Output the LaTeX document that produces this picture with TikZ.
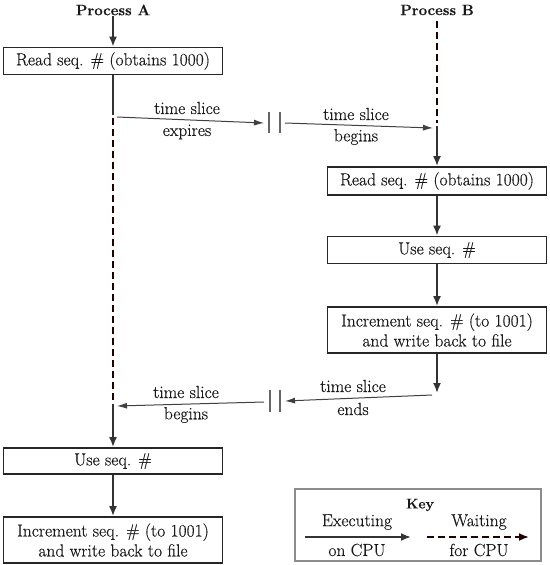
\documentclass[tikz,border=0pt]{standalone}
\usepackage{fontspec}
\setmainfont{Latin Modern Roman}[FakeBold=0.4]
\usetikzlibrary{arrows.meta}
\begin{document}
\begin{tikzpicture}[x=1pt,y=-1pt,
  stepbox/.style={draw=black!85, line width=1.8pt, minimum width=219pt, inner sep=0pt, align=center, text=black!90, font=\fontsize{17.5}{20}\selectfont},
  head/.style={font=\bfseries\fontsize{15}{17}\selectfont, inner sep=1pt, text=black!90},
  lbl/.style={font=\fontsize{17.5}{20}\selectfont, inner sep=0pt, text=black!90},
  run/.style={draw=black!80, line width=1.8pt},
  runarr/.style={run, -{Latex[length=10pt,width=8pt]}},
  wait/.style={draw=black!75!red!50!black, line width=1.8pt, dash pattern=on 7pt off 4pt},
  waitarr/.style={wait, -{Latex[length=10pt,width=8pt]}},
  thin/.style={draw=black!75, line width=1pt, -{Latex[length=10pt,width=6pt]}},
  tick/.style={draw=black!60, line width=1.2pt},
]
\useasboundingbox (0,0) rectangle (549,565);

% headers
\node[head] (pA) at (113,10) {Process A};
\node[head] (pB) at (437,10) {Process B};

% Process A boxes
\node[stepbox, minimum height=27pt] (a1) at (113,61) {Read seq. \# (obtains 1000)};
\node[stepbox, minimum height=26pt] (a2) at (113,461) {Use seq. \#};
\node[stepbox, minimum height=46pt] (a3) at (113,540) {Increment seq. \# (to 1001)\\and write back to file};

% Process B boxes
\node[stepbox, minimum height=28pt] (b1) at (437,181) {Read seq. \# (obtains 1000)};
\node[stepbox, minimum height=27pt] (b2) at (437,250) {Use seq. \#};
\node[stepbox, minimum height=46pt] (b3) at (437,330) {Increment seq. \# (to 1001)\\and write back to file};

% coordinates on process lines
\coordinate (aS) at (113,115);
\coordinate (aW1) at (113,118);
\coordinate (aW2) at (113,402);
\coordinate (aR) at (113,404);
\coordinate (bW1) at (437,21);
\coordinate (bW2) at (437,123);
\coordinate (bR) at (437,126);
\coordinate (bEnd) at (437,393);

% Process A line
\draw[runarr] (pA.south) -- (a1.north);
\draw[run] (a1.south) -- (aS);
\draw[wait] (aW1) -- (aW2);
\draw[runarr] (aR) -- (a2.north);
\draw[runarr] (a2.south) -- (a3.north);

% Process B line
\draw[wait] (bW1) -- (bW2);
\draw[runarr] (bR) -- (b1.north);
\draw[runarr] (b1.south) -- (b2.north);
\draw[runarr] (b2.south) -- (b3.north);
\draw[runarr] (b3.south) -- (bEnd);

% time slice switches (upper)
\coordinate (e1s) at (117,117);
\coordinate (e1e) at (264,123);
\coordinate (e2s) at (285,123);
\coordinate (e2e) at (433,128);
\draw[thin] (e1s) -- (e1e);
\draw[thin] (e2s) -- (e2e);
\coordinate (t1a) at (269,112); \coordinate (t1b) at (269,133);
\coordinate (t2a) at (280,112); \coordinate (t2b) at (280,133);
\draw[tick] (t1a) -- (t1b);
\draw[tick] (t2a) -- (t2b);
\node[lbl] (l1) at (187,108) {time slice};
\node[lbl] (l2) at (187,132) {expires};
\node[lbl] (l3) at (356,114) {time slice};
\node[lbl] (l4) at (356,137) {begins};

% time slice switches (lower)
\coordinate (f1s) at (432,395);
\coordinate (f1e) at (285,401);
\coordinate (f2s) at (264,402);
\coordinate (f2e) at (117,406);
\draw[thin] (f1s) -- (f1e);
\draw[thin] (f2s) -- (f2e);
\coordinate (u1a) at (270,390); \coordinate (u1b) at (270,412);
\coordinate (u2a) at (280,390); \coordinate (u2b) at (280,412);
\draw[tick] (u1a) -- (u1b);
\draw[tick] (u2a) -- (u2b);
\node[lbl] (m1) at (353,386) {time slice};
\node[lbl] (m2) at (353,409) {ends};
\node[lbl] (m3) at (186,392) {time slice};
\node[lbl] (m4) at (186,415) {begins};

% key
\node[draw=black!45, line width=1.2pt, minimum width=246pt, minimum height=72pt, inner sep=0pt] (key) at (418,525) {};
\node[head, font=\bfseries\fontsize{14}{16}\selectfont] (keyt) at (420,505) {Key};
\coordinate (k1s) at (305,537);
\coordinate (k1e) at (411,537);
\coordinate (k2s) at (427,537);
\coordinate (k2e) at (529,537);
\draw[runarr] (k1s) -- (k1e);
\draw[waitarr] (k2s) -- (k2e);
\node[lbl] (kx1) at (357,522) {Executing};
\node[lbl] (kx2) at (357,550) {on CPU};
\node[lbl] (kw1) at (479,522) {Waiting};
\node[lbl] (kw2) at (479,550) {for CPU};
\end{tikzpicture}
\end{document}
